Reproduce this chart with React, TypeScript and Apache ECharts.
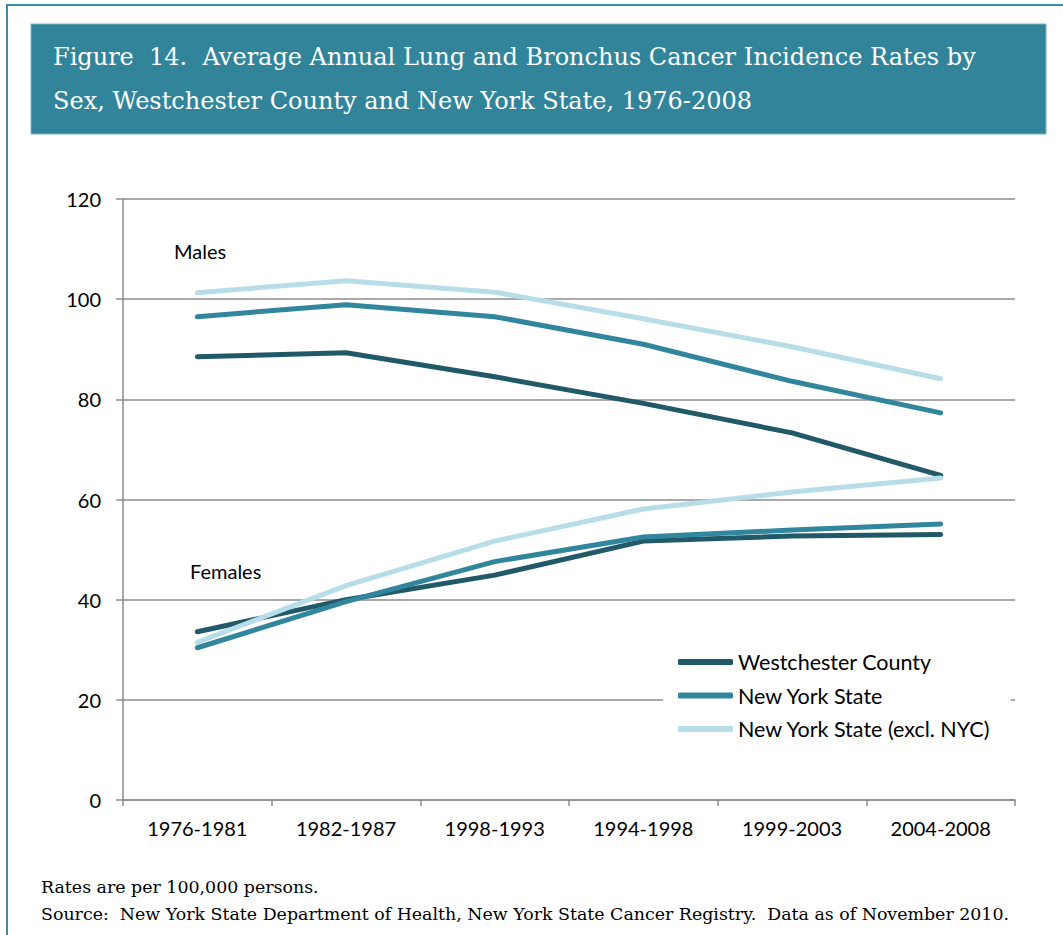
import React, { useEffect, useRef } from "react";
import * as echarts from "echarts";

const categories = ["1976-1981", "1982-1987", "1998-1993", "1994-1998", "1999-2003", "2004-2008"];
const seriesNames = ["Westchester County", "New York State", "New York State (excl. NYC)"];
const maleWestchester = [88.5, 89.3, 84.5, 79.2, 73.3, 64.8];
const maleNYS = [96.5, 98.9, 96.5, 91.0, 83.6, 77.3];
const maleNYSexNYC = [101.3, 103.7, 101.4, 96.1, 90.5, 84.1];
const femaleWestchester = [33.6, 40.0, 44.9, 51.7, 52.7, 53.0];
const femaleNYS = [30.4, 39.6, 47.6, 52.5, 53.9, 55.1];
const femaleNYSexNYC = [31.5, 42.8, 51.7, 58.1, 61.5, 64.3];
const yTicks = { min: 0, max: 120, interval: 20 };

const titleLines = [
  "Figure  14.  Average Annual Lung and Bronchus Cancer Incidence Rates by",
  "Sex, Westchester County and New York State, 1976-2008",
];
const footnotes = [
  "Rates are per 100,000 persons.",
  "Source:  New York State Department of Health, New York State Cancer Registry.  Data as of November 2010.",
];

const colors = ["#215968", "#31859c", "#b7dee8"];
const sansFont = "Lato, 'Open Sans', sans-serif";
const serifFont = "'DejaVu Serif', 'Liberation Serif', serif";
const gridColor = "#8c8c8c";

export default function App() {
  const ref = useRef<HTMLDivElement>(null);
  useEffect(() => {
    if (!ref.current) return;
    const chart = echarts.init(ref.current, undefined, { renderer: "svg" });
    const groups = [
      [maleWestchester, maleNYS, maleNYSexNYC],
      [femaleWestchester, femaleNYS, femaleNYSexNYC],
    ];
    const series: any[] = [];
    groups.forEach((g) => {
      g.forEach((data, i) => {
        series.push({
          type: "line",
          name: seriesNames[i],
          data,
          showSymbol: false,
          symbol: "none",
          color: colors[i],
          lineStyle: { width: 5, color: colors[i], cap: "round", join: "round" },
          z: 3 + i,
        });
      });
    });
    chart.setOption({
      animation: false,
      backgroundColor: "#ffffff",
      grid: { left: 123, right: 48, top: 199, bottom: 135, containLabel: false },
      xAxis: {
        type: "category",
        data: categories,
        boundaryGap: true,
        axisLine: { show: true, lineStyle: { color: gridColor, width: 1.5 } },
        axisTick: { show: true, length: 6, lineStyle: { color: gridColor, width: 1.5 } },
        axisLabel: { color: "#000", fontFamily: sansFont, fontSize: 20, margin: 18 },
        splitLine: { show: false },
      },
      yAxis: {
        type: "value",
        min: yTicks.min,
        max: yTicks.max,
        interval: yTicks.interval,
        axisLine: { show: true, lineStyle: { color: gridColor, width: 1.5 } },
        axisTick: { show: true, length: 7, lineStyle: { color: gridColor, width: 1.5 } },
        axisLabel: { color: "#000", fontFamily: sansFont, fontSize: 20, margin: 22 },
        splitLine: { show: true, lineStyle: { color: gridColor, width: 1.5 } },
      },
      legend: {
        data: seriesNames,
        orient: "vertical",
        left: 663,
        top: 641,
        backgroundColor: "#ffffff",
        padding: [10, 20, 6, 15],
        itemWidth: 55,
        itemHeight: 6,
        itemGap: 11.5,
        icon: "roundRect",
        textStyle: { color: "#000", fontFamily: sansFont, fontSize: 21.5, lineHeight: 22 },
      },
      series,
      graphic: [
        {
          type: "rect",
          shape: { x: 7, y: 5, width: 1100, height: 1000 },
          style: { fill: "none", stroke: "#3b8ea5", lineWidth: 2 },
          silent: true,
        },
        {
          type: "rect",
          shape: { x: 31, y: 24, width: 1015, height: 110 },
          style: { fill: "#32849b", stroke: "#7fb3c2", lineWidth: 1 },
          silent: true,
        },
        {
          type: "text",
          x: 53,
          y: 57,
          style: {
            text: titleLines[0],
            fill: "#ffffff",
            font: `24px ${serifFont}`,
            verticalAlign: "middle",
          },
        },
        {
          type: "text",
          x: 53,
          y: 101,
          style: {
            text: titleLines[1],
            fill: "#ffffff",
            font: `24px ${serifFont}`,
            verticalAlign: "middle",
          },
        },
        {
          type: "text",
          x: 174,
          y: 251,
          style: { text: "Males", fill: "#000", font: `20px ${sansFont}`, verticalAlign: "middle" },
        },
        {
          type: "text",
          x: 190,
          y: 571,
          style: { text: "Females", fill: "#000", font: `20px ${sansFont}`, verticalAlign: "middle" },
        },
        {
          type: "text",
          x: 41,
          y: 887,
          style: { text: footnotes[0], fill: "#000", font: `17.4px ${serifFont}`, verticalAlign: "middle" },
        },
        {
          type: "text",
          x: 41,
          y: 914,
          style: { text: footnotes[1], fill: "#000", font: `17.4px ${serifFont}`, verticalAlign: "middle" },
        },
      ],
    });
    return () => chart.dispose();
  }, []);
  return (
    <div
      ref={ref}
      style={{ position: "fixed", left: 0, top: 0, width: 1063, height: 935 }}
    />
  );
}
